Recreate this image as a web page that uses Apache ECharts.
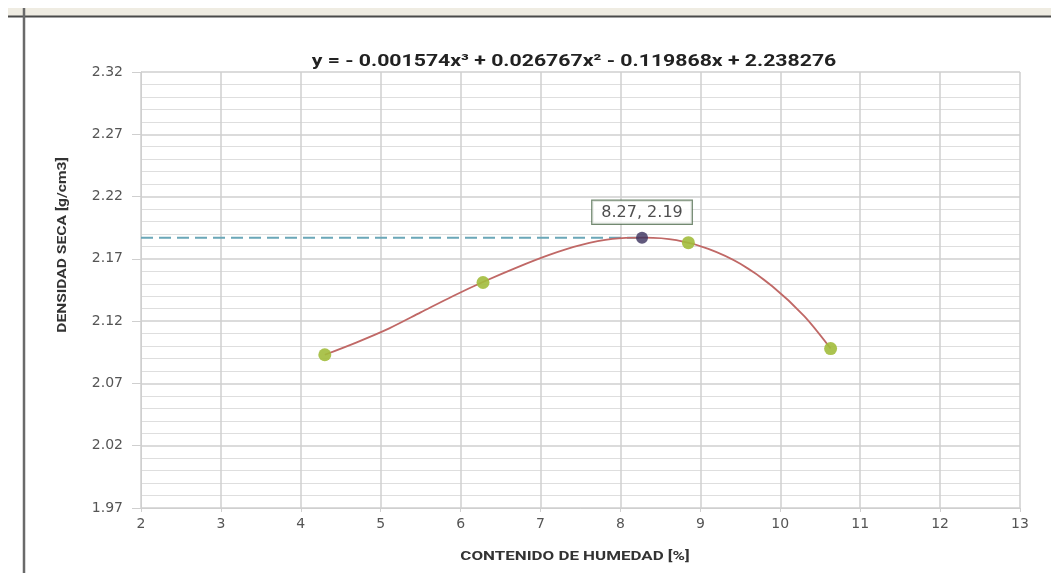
<!DOCTYPE html>
<html>
<head>
<meta charset="utf-8">
<script src="https://cdn.jsdelivr.net/npm/echarts@6/dist/echarts.min.js"></script>
<style>
  html, body { margin: 0; padding: 0; background: #fff; }
  #chart { width: 1051px; height: 573px; }
</style>
</head>
<body>
<div id="chart"></div>
<script>
// ensayo proctor: humedad vs densidad seca
const humedad = [4.3, 6.28, 8.85, 10.63];
const densidad = [2.093, 2.151, 2.183, 2.098];

// curva de ajuste
const curvaX = [4.3, 4.7, 5.1, 5.5, 5.9, 6.3, 6.7, 7.1, 7.5, 7.9, 8.3, 8.7, 9.1, 9.5, 9.9, 10.3, 10.63];
const curvaY = [2.093, 2.103, 2.114, 2.127, 2.14, 2.152, 2.163, 2.173, 2.181, 2.186, 2.187, 2.185, 2.178, 2.166, 2.148, 2.124, 2.098];

const maxPunto = [8.27, 2.187];
const maxTexto = "8.27, 2.19";

const ecuacion = "y = - 0.001574x³ + 0.026767x² - 0.119868x + 2.238276";

const xMin = 2, xMax = 13;
const yMin = 1.97, yMax = 2.32;

let myChart = echarts.init(document.getElementById("chart"));

myChart.setOption({
  backgroundColor: "#fff",
  animation: false,
  textStyle: { fontFamily: "Roboto" },
  grid: {
    left: 141,
    right: 31,
    top: 72,
    bottom: 65,
  },
  xAxis: {
    type: "value",
    min: xMin,
    max: xMax,
    interval: 1,
    axisLine: { show: true, lineStyle: { color: "#cfcfcf" } },
    axisTick: { show: true, length: 4, lineStyle: { color: "#cfcfcf" } },
    axisLabel: { color: "#555", fontSize: 14, fontFamily: "DejaVu Sans", margin: 9 },
    splitLine: { show: true, lineStyle: { color: "#cfcfcf", width: 1.5 } },
  },
  yAxis: {
    type: "value",
    min: yMin,
    max: yMax,
    interval: 0.05,
    axisLine: { show: true, lineStyle: { color: "#cfcfcf" } },
    axisTick: { show: true, inside: false, length: 9, lineStyle: { color: "#cfcfcf" } },
    axisLabel: {
      color: "#555",
      fontSize: 14,
      fontFamily: "DejaVu Sans",
      margin: 18,
      formatter: (v) => v.toFixed(2),
    },
    splitLine: { show: true, lineStyle: { color: "#cfcfcf", width: 1.5 } },
    minorTick: { show: false, splitNumber: 5 },
    minorSplitLine: { show: true, lineStyle: { color: "#dedede", width: 1.2 } },
  },
  graphic: [
    // barra superior del marco
    {
      type: "rect",
      shape: { x: 8, y: 8, width: 1043, height: 8 },
      style: { fill: "#efece2" },
      silent: true,
    },
    {
      type: "line",
      shape: { x1: 8, y1: 16.5, x2: 1051, y2: 16.5 },
      style: { stroke: "#4a4a4a", lineWidth: 2 },
      silent: true,
    },
    {
      type: "line",
      shape: { x1: 24, y1: 8, x2: 24, y2: 573 },
      style: { stroke: "#6a6a6a", lineWidth: 2.5 },
      silent: true,
    },
    // ecuacion
    {
      type: "text",
      x: 574,
      y: 62,
      scaleX: 1.25,
      style: {
        text: ecuacion,
        fill: "#222",
        font: "bold 17px Roboto",
        textAlign: "center",
        textVerticalAlign: "middle",
      },
    },
    // titulo eje y
    {
      type: "text",
      x: 63,
      y: 245,
      rotation: Math.PI / 2,
      scaleX: 1.2,
      style: {
        text: "DENSIDAD SECA [g/cm3]",
        fill: "#333",
        font: "bold 13px Roboto",
        textAlign: "center",
        textVerticalAlign: "middle",
      },
    },
    // titulo eje x
    {
      type: "text",
      x: 575,
      y: 557,
      scaleX: 1.3,
      style: {
        text: "CONTENIDO DE HUMEDAD [%]",
        fill: "#333",
        font: "bold 13px Roboto",
        textAlign: "center",
        textVerticalAlign: "middle",
      },
    },
  ],
  series: [
    {
      // linea de referencia punteada
      type: "line",
      data: [[xMin, maxPunto[1]], maxPunto],
      symbol: "none",
      lineStyle: { color: "#6aa7b8", width: 2, type: [12, 6] },
      z: 3,
    },
    {
      type: "line",
      data: curvaX.map((x, i) => [x, curvaY[i]]),
      smooth: 0.3,
      symbol: "none",
      lineStyle: { color: "#c06866", width: 1.8 },
      z: 4,
    },
    {
      type: "scatter",
      data: humedad.map((x, i) => [x, densidad[i]]),
      symbolSize: 13,
      itemStyle: { color: "#a2bd3c", opacity: 0.9 },
      z: 5,
    },
    {
      type: "scatter",
      data: [maxPunto],
      symbolSize: 12,
      itemStyle: { color: "#3a2f5c" },
      label: {
        show: true,
        position: "top",
        distance: 8,
        formatter: maxTexto,
        color: "#222",
        fontSize: 16,
        fontFamily: "DejaVu Sans",
        backgroundColor: "#fff",
        borderColor: "#4f6b4c",
        borderWidth: 1.2,
        padding: [4, 9, 3, 9],
      },
      z: 6,
    },
  ],
});
</script>
</body>
</html>
